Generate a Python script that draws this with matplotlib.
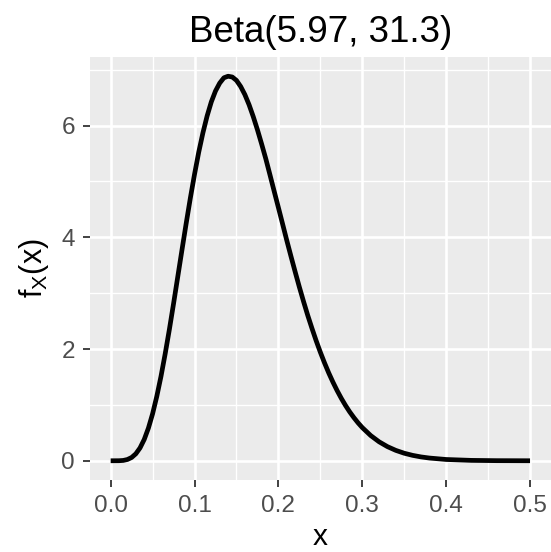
import numpy as np
import matplotlib
matplotlib.use('Agg')
import matplotlib.pyplot as plt
from matplotlib.ticker import MultipleLocator

plt.rcParams['font.family'] = ['Liberation Sans', 'DejaVu Sans']
plt.rcParams['mathtext.fontset'] = 'custom'
plt.rcParams['mathtext.rm'] = 'Liberation Sans'
plt.rcParams['mathtext.it'] = 'Liberation Sans'

# density values
x_vals = [0.0, 0.01, 0.015, 0.02, 0.025, 0.03, 0.035, 0.04, 0.045, 0.05,
          0.055, 0.06, 0.065, 0.07, 0.075, 0.08, 0.085, 0.09, 0.095, 0.10,
          0.105, 0.11, 0.115, 0.12, 0.125, 0.13, 0.135, 0.14, 0.145, 0.15,
          0.155, 0.16, 0.165, 0.17, 0.175, 0.18, 0.185, 0.19, 0.195, 0.20,
          0.205, 0.21, 0.215, 0.22, 0.225, 0.23, 0.235, 0.24, 0.245, 0.25,
          0.255, 0.26, 0.265, 0.27, 0.275, 0.28, 0.285, 0.29, 0.295, 0.30,
          0.31, 0.32, 0.33, 0.34, 0.35, 0.36, 0.37, 0.38, 0.40, 0.43,
          0.46, 0.50]
density = [0.0, 0.001, 0.006, 0.023, 0.059, 0.125, 0.230, 0.381, 0.585, 0.842,
           1.153, 1.511, 1.915, 2.351, 2.815, 3.294, 3.773, 4.246, 4.702, 5.129,
           5.524, 5.871, 6.172, 6.424, 6.619, 6.760, 6.855, 6.883, 6.869, 6.808,
           6.699, 6.554, 6.373, 6.160, 5.924, 5.669, 5.403, 5.114, 4.821, 4.531,
           4.238, 3.943, 3.658, 3.380, 3.108, 2.849, 2.601, 2.370, 2.149, 1.943,
           1.751, 1.572, 1.408, 1.256, 1.117, 0.990, 0.875, 0.772, 0.678, 0.594,
           0.452, 0.340, 0.253, 0.186, 0.135, 0.097, 0.069, 0.049, 0.023, 0.007,
           0.002, 0.0003]

title = 'Beta(5.97, 31.3)'
x_ticks = [0.0, 0.1, 0.2, 0.3, 0.4, 0.5]
y_ticks = [0, 2, 4, 6]

fig = plt.figure(figsize=(5.51, 5.52), dpi=100)
ax = fig.add_axes([89.7 / 551, 72 / 552, 461.3 / 551, 423 / 552])
ax.set_facecolor('#EBEBEB')
for s in ax.spines.values():
    s.set_visible(False)

ax.plot(x_vals, density, color='black', lw=3.4, solid_joinstyle='round',
        solid_capstyle='butt', zorder=3)

xr = max(x_vals) - min(x_vals)
ax.set_xlim(min(x_vals) - 0.05 * xr, max(x_vals) + 0.05 * xr)
yr = max(density) - min(density)
ax.set_ylim(min(density) - 0.05 * yr, max(density) + 0.05 * yr)

ax.set_xticks(x_ticks)
ax.set_xticklabels(['%.1f' % v for v in x_ticks])
ax.set_yticks(y_ticks)
ax.xaxis.set_minor_locator(MultipleLocator(0.05))
ax.yaxis.set_minor_locator(MultipleLocator(1))
ax.grid(which='major', color='white', lw=1.9, zorder=0)
ax.grid(which='minor', color='white', lw=1.0, zorder=0)
ax.set_axisbelow(True)
ax.tick_params(which='major', length=5.2, width=1.3, color='#333333',
               labelcolor='#4D4D4D', labelsize=17.5)
ax.tick_params(axis='x', pad=5.5)
ax.tick_params(axis='y', pad=5.5)
ax.tick_params(which='minor', length=0)

ax.set_xlabel('x', fontsize=21.5, labelpad=4.5)
ax.set_ylabel(r'$\mathrm{f_X(x)}$', fontsize=22, labelpad=7)
ax.set_title(title, fontsize=26.5, pad=11)

fig.savefig('out.png', dpi=100)
